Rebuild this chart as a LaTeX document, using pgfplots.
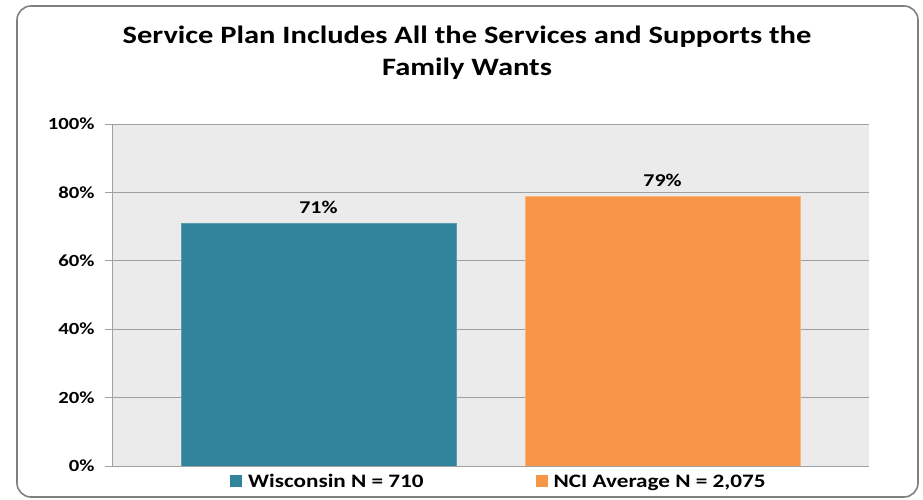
\documentclass[border=0pt]{standalone}
\usepackage{fontspec}
\setmainfont{Carlito}[FakeStretch=1.22]
\usepackage{pgfplots}
\pgfplotsset{compat=1.18}
\definecolor{wisc}{RGB}{49,132,155}
\definecolor{nci}{RGB}{247,150,70}
\definecolor{plotbg}{RGB}{235,235,235}
\definecolor{gridc}{RGB}{160,160,160}
\definecolor{framec}{RGB}{128,128,128}

\begin{document}
\begin{tikzpicture}[x=1pt,y=1pt]
  % page size and outer frame
  \path (-112,-34) rectangle (811,466);
  \draw[framec, line width=1.6pt, rounded corners=14pt] (-95,-31) rectangle (806,460);
  \node[font=\bfseries\fontsize{25}{32}\selectfont, align=center] at (355,413)
    {Service Plan Includes All the Services and Supports the\\Family Wants};
  \begin{axis}[
      at={(0,0)}, anchor=south west,
      scale only axis,
      width=757pt, height=342pt,
      xmin=-0.6, xmax=1.6,
      ymin=0, ymax=100,
      ytick={0,20,...,100},
      yticklabel={\pgfmathprintnumber{\tick}\%},
      xtick=\empty,
      ymajorgrids=true,
      grid style={gridc, line width=0.8pt},
      axis background/.style={fill=plotbg},
      axis line style={gridc, line width=0.8pt},
      axis x line*=bottom,
      axis y line*=left,
      y axis line style={-},
      x axis line style={-},
      tick style={gridc, line width=0.8pt},
      major tick length=7pt,
      tick align=outside,
      yticklabel style={font=\bfseries\fontsize{17}{19}\selectfont, xshift=-7pt},
      /pgf/number format/assume math mode=true,
      ybar, bar width=0.8, bar shift=0pt,
      nodes near coords={\pgfmathprintnumber{\pgfplotspointmeta}\%},
      nodes near coords style={font=\bfseries\fontsize{18}{20}\selectfont, yshift=6pt},
      legend style={draw=none, fill=none, at={(0.511,-0.012)}, anchor=north,
        legend columns=2, font=\bfseries\fontsize{19}{21}\selectfont,
        /tikz/every even column/.append style={column sep=110pt}},
      legend image code/.code={\fill[#1, draw=none] (0pt,-5pt) rectangle (12pt,7pt);
        \path[draw=none, fill=none] (0pt,0pt) -- (16pt,0pt);},
    ]
    \addplot[fill=wisc, draw=wisc!80!white] coordinates {(0,71)};
    \addlegendentry{Wisconsin N = 710}
    \addplot[fill=nci, draw=nci!70!white] coordinates {(1,79)};
    \addlegendentry{NCI Average N = 2,075}
  \end{axis}
\end{tikzpicture}
\end{document}
